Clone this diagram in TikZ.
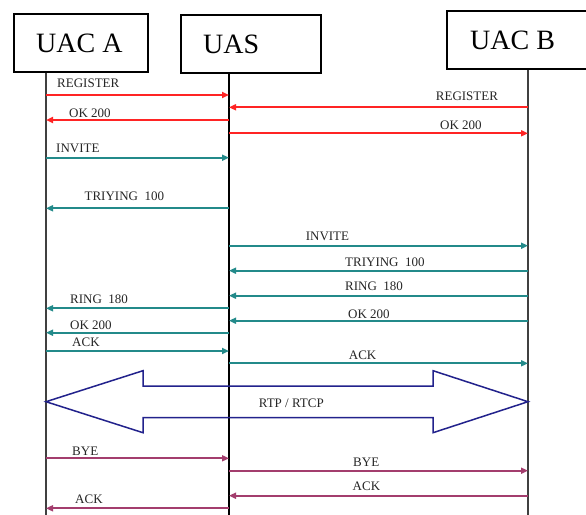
\documentclass[tikz,border=0pt]{standalone}
\usepackage{fontspec}
\setmainfont{Liberation Serif}
\usetikzlibrary{arrows.meta}
\definecolor{redc}{HTML}{FF2424}
\definecolor{tealc}{HTML}{238A8A}
\definecolor{navyc}{HTML}{22228C}
\definecolor{magc}{HTML}{A33D6D}
\definecolor{lifec}{HTML}{404040}
\tikzset{
  actor/.style={draw=black, line width=1.4pt, fill=white},
  actortext/.style={font=\fontsize{28}{30}\selectfont, inner sep=0pt, anchor=base west},
  lifeline/.style={draw=lifec, line width=1.3pt},
  msg/.style={line width=1.8pt, -{Triangle[length=7pt,width=6pt]}},
  redmsg/.style={msg, draw=redc, color=redc},
  tealmsg/.style={msg, draw=tealc, color=tealc},
  magmsg/.style={msg, draw=magc, color=magc},
  lbl/.style={font=\fontsize{13}{14}\selectfont, inner sep=0pt, anchor=base west, text=black!85},
}
\begin{document}
\begin{tikzpicture}[x=1pt,y=-1pt]
\clip (0,0) rectangle (586,514);
\fill[white] (0,0) rectangle (586,514);
% lifelines
\coordinate (LA) at (46,72);
\coordinate (LS) at (229,73);
\coordinate (LB) at (528,69);
\coordinate (EA) at (46,520);
\coordinate (ES) at (229,520);
\coordinate (EB) at (528,520);
\draw[lifeline] (LA) -- (EA);
\draw[lifeline, draw=black] (LS) -- (ES);
\draw[lifeline] (LB) -- (EB);
% actor boxes
\draw[actor] (14,14) rectangle (148,72);
\node[actortext] (tA) at (36,52) {UAC A};
\draw[actor] (181,15) rectangle (321,73);
\node[actortext] (tS) at (203,53) {UAS};
\draw[actor] (447,11) rectangle (600,69);
\node[actortext] (tB) at (470,49) {UAC B};
% REGISTER phase
\draw[redmsg] (LA|-0,95) -- (LS|-0,95);
\node[lbl] (l1) at (57,87.3) {REGISTER};
\draw[redmsg] (LB|-0,107.3) -- (LS|-0,107.3);
\node[lbl] (l2) at (435.7,100) {REGISTER};
\draw[redmsg] (LS|-0,120) -- (LA|-0,120);
\node[lbl] (l3) at (69,117.3) {OK 200};
\draw[redmsg] (LS|-0,133.3) -- (LB|-0,133.3);
\node[lbl] (l4) at (440,129.3) {OK 200};
% INVITE phase
\draw[tealmsg] (LA|-0,157.7) -- (LS|-0,157.7);
\node[lbl] (l5) at (56,152.3) {INVITE};
\draw[tealmsg] (LS|-0,208.3) -- (LA|-0,208.3);
\node[lbl] (l6) at (84.4,200) {TRIYING~~100};
\draw[tealmsg] (LS|-0,245.7) -- (LB|-0,245.7);
\node[lbl] (l7) at (305.6,240) {INVITE};
\draw[tealmsg] (LB|-0,270.7) -- (LS|-0,270.7);
\node[lbl] (l8) at (345,266.7) {TRIYING~~100};
\draw[tealmsg] (LB|-0,295.7) -- (LS|-0,295.7);
\node[lbl] (l9) at (345,290.7) {RING~~180};
\draw[tealmsg] (LS|-0,308.3) -- (LA|-0,308.3);
\node[lbl] (l10) at (70,303.3) {RING~~180};
\draw[tealmsg] (LB|-0,320.7) -- (LS|-0,320.7);
\node[lbl] (l11) at (348,318.3) {OK 200};
\draw[tealmsg] (LS|-0,332.7) -- (LA|-0,332.7);
\node[lbl] (l12) at (70,329.3) {OK 200};
\draw[tealmsg] (LA|-0,351) -- (LS|-0,351);
\node[lbl] (l13) at (72,346.7) {ACK};
\draw[tealmsg] (LS|-0,363.3) -- (LB|-0,363.3);
\node[lbl] (l14) at (348.7,359.3) {ACK};
% RTP / RTCP double arrow
\draw[navyc, line width=1.5pt, line join=miter]
  (LA|-0,401.7) -- (143,370.7) -- (143,386) -- (433,386) -- (433,370.7)
  -- (LB|-0,401.7) -- (433,432.7) -- (433,417.7) -- (143,417.7) -- (143,432.7) -- cycle;
\node[lbl] (l15) at (258.7,407.7) {RTP / RTCP};
% BYE phase
\draw[magmsg] (LA|-0,458.3) -- (LS|-0,458.3);
\node[lbl] (l16) at (72,455) {BYE};
\draw[magmsg] (LS|-0,470.7) -- (LB|-0,470.7);
\node[lbl] (l17) at (353,466) {BYE};
\draw[magmsg] (LB|-0,495.7) -- (LS|-0,495.7);
\node[lbl] (l18) at (352.5,490.7) {ACK};
\draw[magmsg] (LS|-0,508.3) -- (LA|-0,508.3);
\node[lbl] (l19) at (75,503.3) {ACK};
\end{tikzpicture}
\end{document}
